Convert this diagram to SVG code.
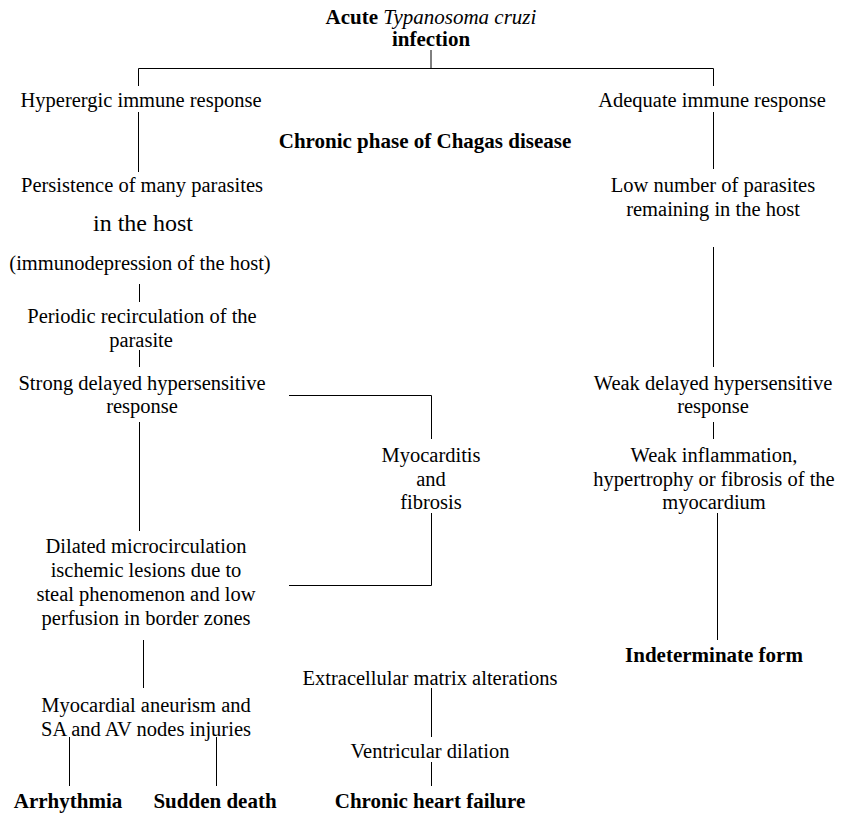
<svg xmlns="http://www.w3.org/2000/svg" width="841" height="813" viewBox="0 0 841 813">
<style>
text{font-family:"Liberation Serif","Times New Roman",serif;font-size:20.5px;fill:#000;text-anchor:middle}
.b{font-weight:bold;font-size:21px}
.i{font-style:italic;font-weight:normal}
.big{font-size:24px}
#connectors line,#connectors polyline{stroke:#000;stroke-width:1;fill:none}
</style>
<rect width="841" height="813" fill="#fff"/>
<g id="connectors">
<line x1="431" y1="50" x2="431" y2="68"/>
<polyline points="138.5,86 138.5,68.5 713.5,68.5 713.5,86"/>
<line x1="138.5" y1="112" x2="138.5" y2="172"/>
<line x1="713.5" y1="112" x2="713.5" y2="169"/>
<line x1="139.5" y1="284" x2="139.5" y2="302"/>
<line x1="139.5" y1="350" x2="139.5" y2="367"/>
<polyline points="289,395.5 431.5,395.5 431.5,439"/>
<polyline points="431.5,513 431.5,585.5 289,585.5"/>
<line x1="139.5" y1="422" x2="139.5" y2="531"/>
<line x1="143.5" y1="640" x2="143.5" y2="688"/>
<line x1="69.5" y1="737" x2="69.5" y2="786"/>
<line x1="216.5" y1="737" x2="216.5" y2="786"/>
<line x1="431.5" y1="688" x2="431.5" y2="737"/>
<line x1="431.5" y1="762" x2="431.5" y2="786"/>
<line x1="713.5" y1="247" x2="713.5" y2="367"/>
<line x1="713.5" y1="422" x2="713.5" y2="439"/>
<line x1="717.5" y1="513" x2="717.5" y2="640"/>
</g>
<g id="n-acute"><text x="431" y="24" class="b">Acute <tspan class="i">Typanosoma cruzi</tspan></text><text x="431" y="46" class="b">infection</text></g>
<g id="n-hyperergic"><text x="141" y="107">Hyperergic immune response</text></g>
<g id="n-adequate"><text x="712" y="107">Adequate immune response</text></g>
<g id="n-chronic"><text x="425" y="148" class="b">Chronic phase of Chagas disease</text></g>
<g id="n-persistence"><text x="142" y="192">Persistence of many parasites</text><text x="143" y="231" class="big">in the host</text><text x="140" y="270">(immunodepression of the host)</text></g>
<g id="n-periodic"><text x="142" y="323">Periodic recirculation of the</text><text x="141" y="347">parasite</text></g>
<g id="n-strong"><text x="142" y="390">Strong delayed hypersensitive</text><text x="142" y="413">response</text></g>
<g id="n-myocarditis"><text x="431" y="462">Myocarditis</text><text x="431" y="486">and</text><text x="431" y="509">fibrosis</text></g>
<g id="n-dilated"><text x="146" y="553">Dilated microcirculation</text><text x="146" y="577">ischemic lesions due to</text><text x="146" y="601">steal phenomenon and low</text><text x="146" y="625">perfusion in border zones</text></g>
<g id="n-aneurism"><text x="146" y="712">Myocardial aneurism and</text><text x="146" y="736">SA and AV nodes injuries</text></g>
<g id="n-arrhythmia"><text x="68" y="808" class="b">Arrhythmia</text></g>
<g id="n-sudden"><text x="215" y="808" class="b">Sudden death</text></g>
<g id="n-ecm"><text x="430" y="685">Extracellular matrix alterations</text></g>
<g id="n-ventricular"><text x="430" y="758">Ventricular dilation</text></g>
<g id="n-chf"><text x="430" y="808" class="b">Chronic heart failure</text></g>
<g id="n-low"><text x="713" y="192">Low number of parasites</text><text x="713" y="216">remaining in the host</text></g>
<g id="n-weak"><text x="713" y="390">Weak delayed hypersensitive</text><text x="713" y="413">response</text></g>
<g id="n-weakinfl"><text x="714" y="462">Weak inflammation,</text><text x="714" y="486">hypertrophy or fibrosis of the</text><text x="714" y="509">myocardium</text></g>
<g id="n-indeterminate"><text x="714" y="662" class="b">Indeterminate form</text></g>
</svg>
